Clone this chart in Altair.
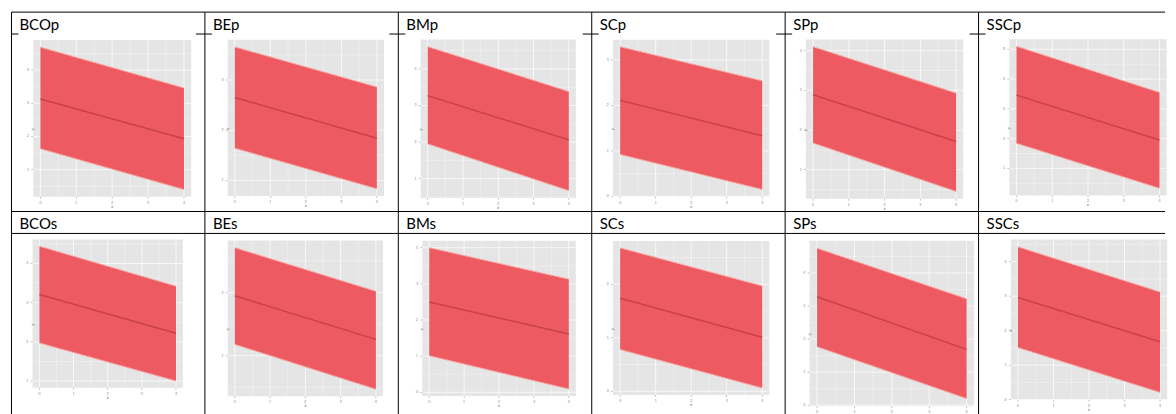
import altair as alt
import pandas as pd

# ---------------- data ----------------
panels = ["BCOp", "BEp", "BMp", "SCp", "SPp", "SSCp",
          "BCOs", "BEs", "BMs", "SCs", "SPs", "SSCs"]

x_points = [0, 4]
x_ticks = [0, 1, 2, 3, 4]

upper_start = [4.69, 3.66, 4.61, 3.29, 4.10, 5.10, 4.44, 2.71, 4.00, 2.68, 4.75, 4.43]
upper_end = [3.46, 2.86, 3.38, 2.54, 2.93, 3.55, 3.42, 2.02, 3.13, 1.97, 3.22, 3.12]
fit_start = [3.13, 2.65, 3.27, 2.11, 2.89, 3.46, 3.21, 1.95, 2.50, 1.74, 3.28, 2.96]
fit_end = [1.93, 1.84, 2.06, 1.33, 1.71, 1.95, 2.22, 1.26, 1.61, 1.01, 1.69, 1.68]
lower_start = [1.63, 1.64, 1.95, 0.92, 1.67, 1.84, 1.97, 1.18, 1.01, 0.78, 1.77, 1.51]
lower_end = [0.40, 0.83, 0.67, 0.15, 0.45, 0.33, 1.00, 0.47, 0.09, 0.06, 0.20, 0.21]

y_ticks = [[1, 2, 3, 4], [1, 2, 3], [1, 2, 3, 4], [0, 1, 2, 3], [1, 2, 3, 4], [1, 2, 3, 4, 5],
           [1, 2, 3, 4], [1, 2], [0, 1, 2, 3, 4], [0, 1, 2], [0, 1, 2, 3, 4], [0, 1, 2, 3, 4]]

x_title = "x"
y_title = "y"

# ---------------- layout (pixels inside each table cell) ----------------
CELL_W = [194, 194, 194, 194, 194, 187]
ROW_H = [200, 210]
HEAD_H = 22
x0_px = [29, 30, 29.5, 28.5, 28, 38, 28, 30, 31, 28.5, 32, 39.5]
x4_px = [173, 172.5, 171, 171, 171.5, 181.5, 165, 171.5, 171, 171, 182, 182]
ybase_px = [158, 168.7, 167, 184.7, 158, 156.7, 170, 144.7, 181.3, 180.3, 194.3, 188.7]
px_per_unit = [33.3, 50.3, 36.67, 45.57, 39.77, 29.85, 39.3, 63.4, 36.25, 53.65, 33.15, 34.6]

PANEL_BG = "#E5E5E5"
BAND = "#EE5A62"
EDGE = "#F6A7A3"
FIT = "#C8414B"
TICK_TXT = "#9a9a9a"


def make_cell(i):
    row, col = divmod(i, 6)
    W, H = CELL_W[col], ROW_H[row]
    kx = (x4_px[i] - x0_px[i]) / (x_points[-1] - x_points[0])
    xdom = [x_points[0] - x0_px[i] / kx, x_points[0] + (W - x0_px[i]) / kx]
    s = px_per_unit[i]
    tb = y_ticks[i][0]
    ydom = [tb - (H - ybase_px[i]) / s, tb + ybase_px[i] / s]
    xs = alt.Scale(domain=xdom, nice=False, zero=False)
    ys = alt.Scale(domain=ydom, nice=False, zero=False)

    band = pd.DataFrame({
        "x": x_points,
        "lo": [lower_start[i], lower_end[i]],
        "hi": [upper_start[i], upper_end[i]],
        "fit": [fit_start[i], fit_end[i]],
    })
    ymin, ymax = band["lo"].min(), band["hi"].max()
    yr = ymax - ymin
    gy1, gy2 = ymin - 0.05 * yr, ymax + 0.05 * yr
    xr = max(x_points) - min(x_points)
    gx1, gx2 = min(x_points) - 0.05 * xr, max(x_points) + 0.05 * xr

    bg_df = pd.DataFrame({"x1": [gx1], "x2": [gx2], "y1": [gy1], "y2": [gy2], "p": [panels[i]]})

    ystep = y_ticks[i][1] - y_ticks[i][0]
    yminor = [t + ystep / 2 for t in [y_ticks[i][0] - ystep] + y_ticks[i]]
    yminor = [v for v in yminor if gy1 <= v <= gy2]
    ymajor = [v for v in y_ticks[i] if gy1 <= v <= gy2]
    xminor = [t + 0.5 for t in [x_ticks[0] - 1] + x_ticks]
    xminor = [v for v in xminor if gx1 <= v <= gx2]

    vgrid = pd.DataFrame({"x": x_ticks + xminor,
                          "w": [0.9] * len(x_ticks) + [0.4] * len(xminor),
                          "y1": gy1, "y2": gy2})
    hgrid = pd.DataFrame({"y": ymajor + yminor,
                          "w": [0.9] * len(ymajor) + [0.4] * len(yminor),
                          "x1": gx1, "x2": gx2})
    xlab = pd.DataFrame({"x": x_ticks, "y": gy1, "t": [str(v) for v in x_ticks]})
    ylab = pd.DataFrame({"y": ymajor, "x": gx1, "t": [str(v) for v in ymajor]})
    titles = pd.DataFrame({"xm": [(gx1 + gx2) / 2], "ym": [(gy1 + gy2) / 2],
                           "x1": [gx1], "y1": [gy1], "xt": [x_title], "yt": [y_title]})

    X = lambda f: alt.X(f, scale=xs, axis=None)
    Y = lambda f: alt.Y(f, scale=ys, axis=None)

    bg = alt.Chart(bg_df).mark_rect(color=PANEL_BG).encode(
        x=X("x1:Q"), x2="x2:Q", y=Y("y1:Q"), y2="y2:Q")
    vg = alt.Chart(vgrid).mark_rule(color="white", opacity=0.8).encode(
        x=X("x:Q"), y=Y("y1:Q"), y2="y2:Q",
        strokeWidth=alt.StrokeWidth("w:Q", scale=None))
    hg = alt.Chart(hgrid).mark_rule(color="white", opacity=0.8).encode(
        y=Y("y:Q"), x=X("x1:Q"), x2="x2:Q",
        strokeWidth=alt.StrokeWidth("w:Q", scale=None))
    area = alt.Chart(band).mark_area(color=BAND, opacity=1).encode(
        x=X("x:Q"), y=Y("lo:Q"), y2="hi:Q")
    up = alt.Chart(band).mark_line(color=EDGE, strokeWidth=1).encode(
        x=X("x:Q"), y=Y("hi:Q"))
    lo = alt.Chart(band).mark_line(color=EDGE, strokeWidth=1).encode(
        x=X("x:Q"), y=Y("lo:Q"))
    fit = alt.Chart(band).mark_line(color=FIT, strokeWidth=1.5).encode(
        x=X("x:Q"), y=Y("fit:Q"))
    xt = alt.Chart(xlab).mark_tick(orient="vertical", size=2, thickness=0.6,
                                   color="#777777", yOffset=1).encode(
        x=X("x:Q"), y=Y("y:Q"))
    yt = alt.Chart(ylab).mark_tick(orient="horizontal", size=2, thickness=0.6,
                                   color="#777777", xOffset=-1).encode(
        x=X("x:Q"), y=Y("y:Q"))
    xl = alt.Chart(xlab).mark_text(dy=6, fontSize=4, color=TICK_TXT,
                                   baseline="middle", font="DejaVu Sans").encode(
        x=X("x:Q"), y=Y("y:Q"), text="t:N")
    yl = alt.Chart(ylab).mark_text(dx=-4, align="right", fontSize=4, color=TICK_TXT,
                                   baseline="middle", font="DejaVu Sans").encode(
        x=X("x:Q"), y=Y("y:Q"), text="t:N")
    xtt = alt.Chart(titles).mark_text(dy=10, fontSize=4, color="#777777",
                                      baseline="middle", font="DejaVu Sans").encode(
        x=X("xm:Q"), y=Y("y1:Q"), text="xt:N")
    ytt = alt.Chart(titles).mark_text(dx=-11, fontSize=4, color="#777777", angle=270,
                                      baseline="middle", font="DejaVu Sans").encode(
        x=X("x1:Q"), y=Y("ym:Q"), text="yt:N")

    head = alt.Chart(bg_df).mark_text(
        align="left", baseline="alphabetic", font="Lato", fontSize=15, color="black"
    ).encode(x=alt.value(8), y=alt.value(17.5), text="p:N")

    def rule(**enc):
        return alt.Chart(bg_df).mark_rule(color="black", strokeWidth=1).encode(**enc)

    layers = [bg, vg, hg, area, up, lo, fit, xt, yt, xl, yl, xtt, ytt, head,
              rule(x=alt.value(0), y=alt.value(0), y2=alt.value(H)),
              rule(x=alt.value(0), x2=alt.value(W), y=alt.value(0))]
    if row == 0:
        layers.append(rule(x=alt.value(0), x2=alt.value(7), y=alt.value(HEAD_H)))
        if col < 5:
            layers.append(rule(x=alt.value(W - 9), x2=alt.value(W), y=alt.value(HEAD_H)))
    else:
        layers.append(rule(x=alt.value(0), x2=alt.value(W), y=alt.value(HEAD_H)))
    return alt.layer(*layers).properties(width=W, height=H)


cells = [make_cell(i) for i in range(12)]
chart = alt.concat(*cells, columns=6, spacing=0, bounds="flush").properties(
    padding={"left": 2.5, "top": 2.5, "right": 0, "bottom": 0}
).configure_view(stroke=None)

chart.save("out.html", embed_options={"renderer": "svg", "actions": False})
